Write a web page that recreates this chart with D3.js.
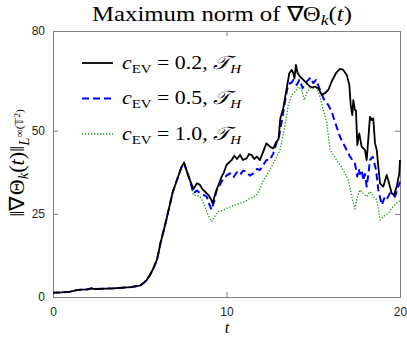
<!DOCTYPE html>
<html><head><meta charset="utf-8">
<script src="https://cdn.jsdelivr.net/npm/d3@7"></script>
<style>body{margin:0;background:#fff} svg{display:block}</style>
</head><body><svg id="c" width="407" height="337"></svg>
<script>
const xTicks = [0, 10, 20];
const yTicks = [0, 25, 50, 80];
const cValues = ["0.2", "0.5", "1.0"];

const early = [[0,1.3],[0.5,1.4],[1,1.6],[1.3,2.0],[1.6,2.2],[2,2.3],[2.2,2.6],[2.4,2.4],[3,2.5],[3.5,2.6],[4,2.8],[4.5,3.0],[5,3.4],[5.2,4.1],[5.4,5.1],[5.6,6.7],[5.8,8.8],[6,11.3],[6.2,16.3],[6.5,22.5],[6.9,31.5],[7.2,36],[7.4,39],[7.55,40.4],[7.7,38],[7.9,35]];

const series02 = [[8.1,32.5],[8.3,34.2],[8.45,33.8],[8.65,32.2],[8.8,31.5],[8.95,30.7],[9.1,29.5],[9.2,28.2],[9.35,31],[9.5,33.2],[9.6,34.5],[9.72,36.2],[9.85,37.5],[10,39.7],[10.15,40.5],[10.3,41.2],[10.45,42.5],[10.6,41.5],[10.78,42.7],[10.95,41.2],[11.16,41.7],[11.3,43],[11.45,42.7],[11.6,41.5],[11.75,42.2],[11.93,41.2],[12.1,43.5],[12.3,46.2],[12.5,45.2],[12.7,44.7],[12.85,46.5],[13,47.5],[13.1,53.7],[13.27,56.7],[13.47,62.8],[13.62,67.3],[13.76,68.3],[13.85,67.3],[13.92,65.8],[14,69.8],[14.1,67.3],[14.24,66.3],[14.43,65.3],[14.62,64.3],[14.81,63.3],[14.97,63],[15.1,63.3],[15.29,62.8],[15.49,60.8],[15.68,61.3],[15.87,62.3],[16.06,64.8],[16.31,67.3],[16.54,68.6],[16.73,68.3],[16.93,66.8],[17.08,63.8],[17.16,57.7],[17.25,54.7],[17.31,59.2],[17.4,56.2],[17.46,56.2],[17.54,45.7],[17.65,49.2],[17.79,45.2],[17.98,44.2],[18.08,41.2],[18.18,48],[18.27,54.2],[18.37,53.2],[18.46,53.7],[18.56,46.2],[18.66,44.2],[18.75,39.2],[18.85,34.2],[19.04,33.2],[19.23,36.7],[19.32,35.2],[19.52,31.2],[19.65,30.7],[19.81,33.2],[19.96,37.2],[20,41.2]];

const series05 = [[8.09,31.2],[8.3,32],[8.47,31.2],[8.65,30.8],[8.86,30.2],[9,28],[9.14,26.2],[9.3,29],[9.43,32.2],[9.6,33.5],[9.82,35.7],[10,36.5],[10.2,37.2],[10.4,36],[10.6,37.5],[10.78,36.7],[10.95,38],[11.16,37.7],[11.35,36.5],[11.55,37.2],[11.75,38.5],[11.93,38.2],[12.1,39.5],[12.3,41.2],[12.5,41.2],[12.7,43.2],[12.9,46.7],[13,47.5],[13.18,52.7],[13.3,56.5],[13.47,61.7],[13.56,64],[13.66,64.3],[13.76,64.5],[13.85,65.3],[14.05,63.8],[14.2,65.3],[14.39,62.8],[14.5,64],[14.62,64.8],[14.72,65.3],[14.85,66],[15,64.3],[15.16,65.3],[15.35,62.8],[15.58,59.8],[15.87,57.7],[16.06,55.7],[16.25,52.7],[16.54,48.2],[16.83,45.2],[17.12,42.2],[17.4,40.2],[17.54,36.2],[17.62,38.5],[17.69,37],[17.8,38.2],[17.88,35],[17.98,37],[18.08,33.2],[18.18,37],[18.27,41.2],[18.43,42.2],[18.62,38.2],[18.75,32.2],[18.95,27.7],[19.13,30.2],[19.25,29.5],[19.42,31.2],[19.71,30.2],[20,34.7]];

const series10 = [[8.09,30.7],[8.3,30.5],[8.47,30.2],[8.6,29],[8.76,27.2],[8.95,24.5],[9.14,22.7],[9.3,24],[9.53,25.7],[9.75,26],[10.01,26.7],[10.4,27.5],[10.78,28.2],[11.1,28.8],[11.35,29.7],[11.55,30],[11.74,30.7],[11.9,32],[12.12,35.2],[12.3,36.5],[12.5,38.2],[12.8,41.2],[13.08,44.2],[13.27,49],[13.37,51.7],[13.56,57.7],[13.76,60.8],[13.95,61.7],[14.14,63.3],[14.33,62.3],[14.48,59.2],[14.62,61.3],[14.81,62.8],[15,62.8],[15.23,62.8],[15.39,60.2],[15.58,56.2],[15.77,52.7],[15.97,44.2],[16.35,41.2],[16.73,38.2],[17.02,35.2],[17.22,30.2],[17.4,26.5],[17.54,30.2],[17.69,32.2],[17.88,31.2],[18.08,30.2],[18.27,31.7],[18.46,30.2],[18.66,29.2],[18.85,23.2],[19.04,24.2],[19.32,25.2],[19.61,27.2],[19.9,28.7],[20,29]];

const svg = d3.select("#c");
const L = 53, R = 400, T = 31, B = 297;
const x = d3.scaleLinear().domain([0, 20]).range([L, R]);
const y = d3.scaleLinear().domain([0, 80]).range([B, T]);

const axisColor = "#808080";
const tickFont = "'Liberation Sans', Arial, sans-serif";
const serif = "'Liberation Serif', 'Times New Roman', serif";

function styleAxis(g, labels) {
  g.select(".domain").remove();
  g.selectAll(".tick line").attr("stroke", axisColor);
  g.selectAll(".tick text").attr("fill", "#262626").style("font-family", tickFont).style("font-size", "12px");
  if (!labels) g.selectAll(".tick text").remove();
}

svg.append("g").attr("transform", `translate(${L},0)`)
  .call(d3.axisLeft(y).tickValues(yTicks).tickSize(-5).tickPadding(8)).call(g => styleAxis(g, true));
svg.append("g").attr("transform", `translate(${R},0)`)
  .call(d3.axisRight(y).tickValues(yTicks).tickSize(-5)).call(g => styleAxis(g, false));
svg.append("g").attr("transform", `translate(0,${B})`)
  .call(d3.axisBottom(x).tickValues(xTicks).tickSize(-5).tickPadding(10)).call(g => styleAxis(g, true));
svg.append("g").attr("transform", `translate(0,${T})`)
  .call(d3.axisTop(x).tickValues(xTicks).tickSize(-5)).call(g => styleAxis(g, false));

svg.append("rect").attr("x", L + 0.5).attr("y", T + 0.5).attr("width", R - L).attr("height", B - T)
  .attr("fill", "none").attr("stroke", axisColor).attr("stroke-width", 1);

const line = d3.line().x(d => x(d[0])).y(d => y(d[1]));
const styles = [
  {data: early.concat(series10), color: "#1a961a", width: 1.3, dash: "1.3,1.7"},
  {data: early.concat(series05), color: "#0000ff", width: 2, dash: "7,4"},
  {data: early.concat(series02), color: "#000000", width: 1.8, dash: null}
];
styles.forEach(s => {
  svg.append("path").datum(s.data).attr("d", line).attr("fill", "none")
    .attr("stroke", s.color).attr("stroke-width", s.width)
    .attr("stroke-dasharray", s.dash).attr("stroke-linejoin", "round");
});

// legend
const legendStyles = [styles[2], styles[1], styles[0]];
const rows = [63, 98.5, 134];
cValues.forEach((c, i) => {
  const s = legendStyles[i];
  svg.append("line").attr("x1", 82).attr("x2", 113).attr("y1", rows[i]).attr("y2", rows[i])
    .attr("stroke", s.color).attr("stroke-width", s.width).attr("stroke-dasharray", s.dash);
  const t = svg.append("g").attr("transform", `translate(122,${rows[i] + 5.5}) scale(1.15,1)`)
    .append("text").style("font-family", serif).style("font-size", "19px").attr("fill", "#000");
  t.append("tspan").style("font-style", "italic").text("c");
  t.append("tspan").style("font-size", "13px").attr("dy", 4).text("EV");
  t.append("tspan").attr("dy", -4).text(` = ${c}, `);
  t.append("tspan").style("font-style", "italic").text("𝒯");
  t.append("tspan").style("font-size", "13px").style("font-style", "italic").attr("dy", 4).text("H");
});

// title
const title = svg.append("g").attr("transform", "translate(222,21) scale(1.18,1)")
  .append("text").attr("text-anchor", "middle")
  .style("font-family", serif).style("font-size", "21px").attr("fill", "#000");
title.append("tspan").text("Maximum norm of ∇Θ");
title.append("tspan").style("font-size", "15px").style("font-style", "italic").attr("dy", 4).text("k");
title.append("tspan").attr("dy", -4).text("(");
title.append("tspan").style("font-style", "italic").text("t");
title.append("tspan").text(")");

// x label
svg.append("text").attr("x", 227).attr("y", 333).attr("text-anchor", "middle")
  .style("font-family", serif).style("font-size", "16.5px").style("font-style", "italic").text("t");

// y label
const yl = svg.append("text").attr("transform", "translate(24,163) rotate(-90) scale(1.05,1)").attr("text-anchor", "middle")
  .style("font-family", serif).style("font-size", "21px").attr("fill", "#000");
yl.append("tspan").text("‖∇Θ");
yl.append("tspan").style("font-size", "14px").style("font-style", "italic").attr("dy", 4).text("k");
yl.append("tspan").attr("dy", -4).text("(");
yl.append("tspan").style("font-style", "italic").text("t");
yl.append("tspan").text(")‖");
yl.append("tspan").style("font-size", "14px").style("font-style", "italic").attr("dy", 5).text("L");
yl.append("tspan").style("font-size", "11px").attr("dy", -6).text("∞(𝕋");
yl.append("tspan").style("font-size", "8px").attr("dy", -3).text("2");
yl.append("tspan").style("font-size", "11px").attr("dy", 3).text(")");
</script></body></html>
